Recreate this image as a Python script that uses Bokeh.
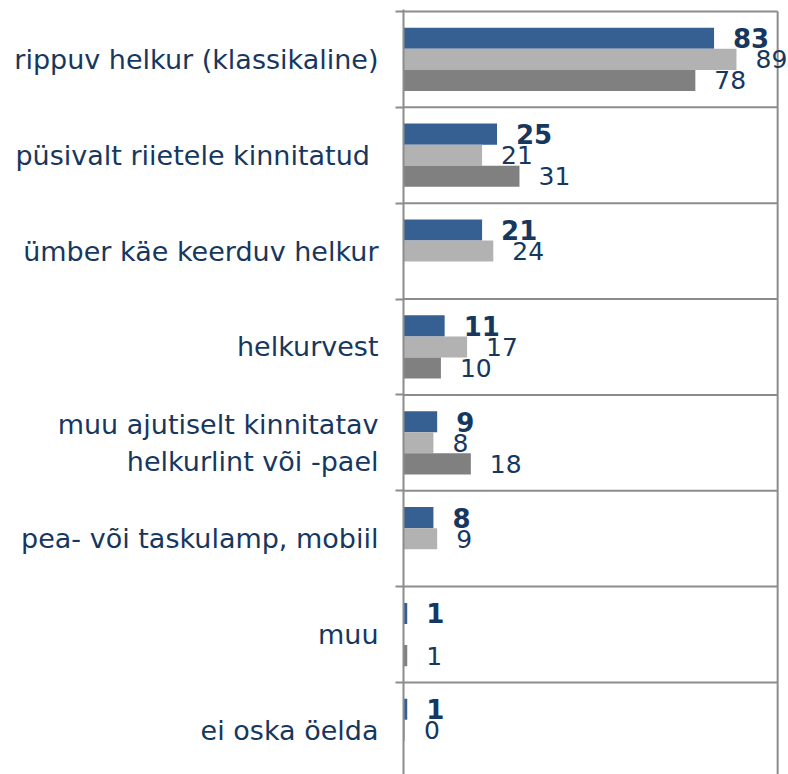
import math
from bokeh.plotting import figure
from bokeh.models import ColumnDataSource, LabelSet, FixedTicker, Range1d
from bokeh.core.properties import value
from bokeh.embed import file_html
from bokeh.resources import INLINE

nan = float("nan")

categories = [
    "rippuv helkur (klassikaline)",
    "püsivalt riietele kinnitatud ",
    "ümber käe keerduv helkur",
    "helkurvest",
    "muu ajutiselt kinnitatav\nhelkurlint või -pael",
    "pea- või taskulamp, mobiil",
    "muu",
    "ei oska öelda",
]
series_a = [83, 25, 21, 11, 9, 8, 1, 1]
series_b = [89, 21, 24, 17, 8, 9, nan, 0.4]
series_c = [78, 31, nan, 10, 18, nan, 1, nan]
x_max = 100

colors = ["#366092", "#B2B2B2", "#808080"]
offsets = [-0.22, 0.0, 0.22]
label_styles = ["bold", "normal", "normal"]
label_sizes = ["26px", "25px", "25px"]
FONT = "DejaVu Sans"
TEXT_COLOR = "#17375E"
LINE_COLOR = "#8C8C8C"

n = len(categories)
p = figure(
    width=788, height=774,
    x_range=Range1d(0, 102.9), y_range=Range1d(7.96, -0.02),
    x_axis_location=None, y_axis_location="left",
    output_backend="svg", toolbar_location=None,
    min_border_left=403, min_border_right=0, min_border_top=9, min_border_bottom=0,
    outline_line_color=None, background_fill_color="white",
)
p.xgrid.visible = False
p.ygrid.visible = False

# category separators and right border of the plot area
bounds = list(range(n + 1))
p.segment(x0=[0] * len(bounds), x1=[x_max] * len(bounds), y0=bounds, y1=bounds,
          line_color=LINE_COLOR, line_width=2)
p.segment(x0=[x_max], x1=[x_max], y0=[0], y1=[n], line_color=LINE_COLOR, line_width=2)

for vals, col, off, style, size in zip([series_a, series_b, series_c], colors, offsets,
                                       label_styles, label_sizes):
    ys = [i + 0.5 + off for i in range(n)]
    src = ColumnDataSource(dict(y=ys, right=vals))
    p.hbar(y="y", right="right", left=0, height=0.22, source=src,
           fill_color=col, line_color=None)
    lx, ly, lt = [], [], []
    for v, y in zip(vals, ys):
        if not math.isnan(v):
            lx.append(v)
            ly.append(y)
            lt.append(f"{v:.0f}")
    lsrc = ColumnDataSource(dict(x=lx, y=ly, t=lt))
    p.add_layout(LabelSet(x="x", y="y", text="t", source=lsrc, x_offset=19,
                          text_align="left", text_baseline="middle",
                          text_font=value(FONT), text_font_size=value(size),
                          text_font_style=value(style), text_color=value(TEXT_COLOR)))

ax = p.yaxis[0]
ax.ticker = FixedTicker(ticks=[i + 0.5 for i in range(n)], minor_ticks=bounds)
ax.major_label_overrides = {i + 0.5: c for i, c in enumerate(categories)}
ax.major_label_text_font = FONT
ax.major_label_text_font_size = "27px"
ax.major_label_text_color = TEXT_COLOR
ax.major_label_text_line_height = 1.2
ax.major_label_standoff = 17
ax.major_tick_line_color = None
ax.major_tick_out = 0
ax.major_tick_in = 0
ax.minor_tick_out = 8
ax.minor_tick_in = 0
ax.minor_tick_line_color = LINE_COLOR
ax.minor_tick_line_width = 2
ax.axis_line_color = LINE_COLOR
ax.axis_line_width = 2

open("out.html", "w").write(file_html(p, INLINE))
